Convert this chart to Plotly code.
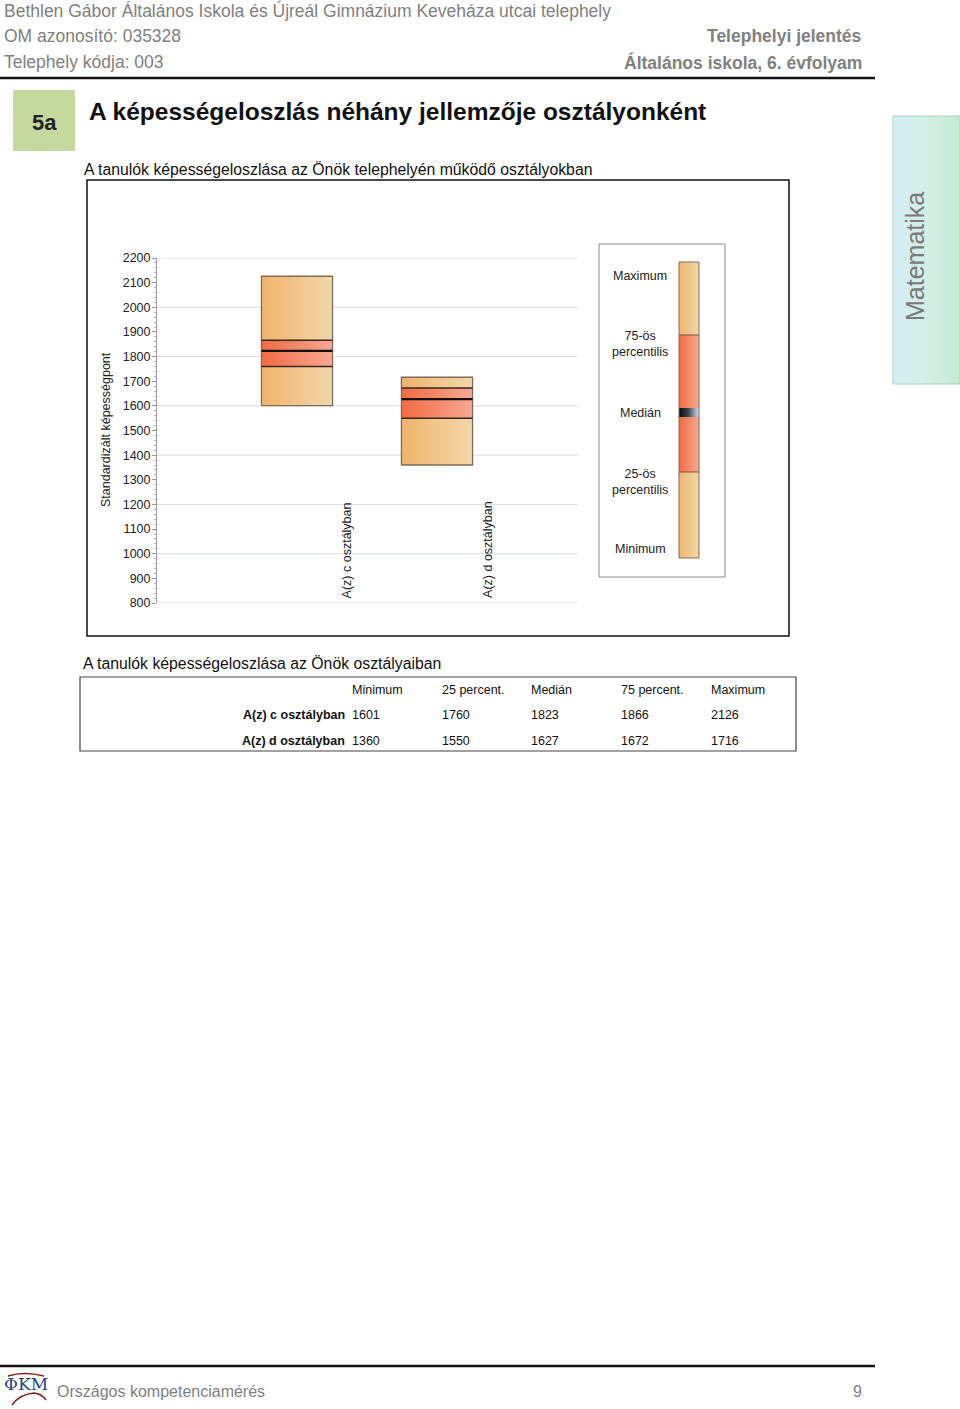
import plotly.graph_objects as go

# ---------------- data ----------------
classes = ["A(z) c osztályban", "A(z) d osztályban"]
minimum = [1601, 1360]
q25 = [1760, 1550]
median = [1823, 1627]
q75 = [1866, 1672]
maximum = [2126, 1716]
col_headers = ["Minimum", "25 percent.", "Medián", "75 percent.", "Maximum"]
legend_labels = ["Maximum", "75-ös<br>percentilis", "Medián", "25-ös<br>percentilis", "Minimum"]
grid_vals = [800, 1000, 1200, 1400, 1600, 1800, 2000, 2200]

W, H = 960, 1409
F = "Liberation Sans, Arial, sans-serif"

ORANGE = [[0, "#f0b46c"], [1, "#f2d7aa"]]
RED = [[0, "#f26b42"], [1, "#f6a993"]]
MED = [[0, "#0a0a0a"], [0.45, "#3c4450"], [1, "#d0e0ee"]]

fig = go.Figure()

# ---------------- boxes (data axes) ----------------
HW = 0.254
for i, name in enumerate(classes):
    xc = i + 1
    xl, xr = xc - HW, xc + HW
    segs = [(minimum[i], q25[i], ORANGE), (q25[i], q75[i], RED), (q75[i], maximum[i], ORANGE)]
    for lo, hi, cs in segs:
        fig.add_trace(go.Scatter(x=[xl, xr, xr, xl, xl], y=[lo, lo, hi, hi, lo], mode="lines",
                                 fill="toself", fillgradient=dict(type="horizontal", colorscale=cs),
                                 line=dict(width=0), hoverinfo="skip", showlegend=False,
                                 xaxis="x", yaxis="y"))
    fig.add_trace(go.Scatter(x=[xl, xr, xr, xl, xl], y=[minimum[i], minimum[i], maximum[i], maximum[i], minimum[i]],
                             mode="lines", line=dict(color="#7d6b5a", width=1.3), hoverinfo="skip",
                             showlegend=False, xaxis="x", yaxis="y"))
    fig.add_trace(go.Scatter(x=[xl, xr, None, xl, xr], y=[q25[i], q25[i], None, q75[i], q75[i]],
                             mode="lines", line=dict(color="#3a2420", width=1.5), hoverinfo="skip",
                             showlegend=False, xaxis="x", yaxis="y"))
    fig.add_trace(go.Scatter(x=[xl, xr], y=[median[i], median[i]], mode="lines",
                             line=dict(color="#111111", width=2.2), hoverinfo="skip",
                             showlegend=False, xaxis="x", yaxis="y"))

# ---------------- page decorations (pixel axes) ----------------
def grad_rect(x0, x1, y0, y1, cs):
    fig.add_trace(go.Scatter(x=[x0, x1, x1, x0, x0], y=[y0, y0, y1, y1, y0], mode="lines",
                             fill="toself", fillgradient=dict(type="horizontal", colorscale=cs),
                             line=dict(width=0), hoverinfo="skip", showlegend=False,
                             xaxis="x3", yaxis="y3"))

# side tab
grad_rect(893, 960, 116, 384, [[0, "#d3eef6"], [0.5, "#d2efe6"], [1, "#c6e8d2"]])

# legend bar
LX0, LX1 = 679, 699
LY = [262, 335, 408, 417, 472, 558]
leg_cs = [ORANGE, RED, MED, RED, ORANGE]
for k in range(5):
    grad_rect(LX0, LX1, LY[k], LY[k + 1], leg_cs[k])

annotations = []
shapes = []

# horizontal grid lines of the chart (below the boxes)
for g in grid_vals:
    shapes.append(dict(type="line", xref="x domain", yref="y", x0=0, x1=1, y0=g, y1=g,
                       layer="below", line=dict(color="#d6dce2", width=1)))

def txt(x, y, s, size, color="#222222", xanchor="left", angle=0, yanchor="middle", family=F):
    annotations.append(dict(x=x, y=y, xref="x3", yref="y3", text=s, showarrow=False,
                            xanchor=xanchor, yanchor=yanchor, textangle=angle,
                            borderpad=0, borderwidth=0,
                            font=dict(family=family, size=size, color=color)))

def rect(x0, y0, x1, y1, line_color=None, width=1, fill=None):
    shapes.append(dict(type="rect", xref="x3", yref="y3", x0=x0, y0=y0, x1=x1, y1=y1,
                       line=dict(color=line_color or "rgba(0,0,0,0)", width=width if line_color else 0),
                       fillcolor=fill or "rgba(0,0,0,0)"))

def hline(x0, x1, y, color, width):
    shapes.append(dict(type="line", xref="x3", yref="y3", x0=x0, x1=x1, y0=y, y1=y,
                       line=dict(color=color, width=width)))

# legend bar outline & separators
rect(LX0, LY[0], LX1, LY[-1], "#7d6b5a", 1)
hline(LX0, LX1, LY[1], "#8a5040", 1)
hline(LX0, LX1, LY[4], "#8a5040", 1)
rect(599, 244, 725, 577, "#8a8a8a", 1)
leg_y = [276, 344, 413, 482, 549]
for s, yy in zip(legend_labels, leg_y):
    txt(640, yy, s, 12.5, "#222222", xanchor="center")

# header
GRAY = "#808080"
txt(4, 10, "Bethlen Gábor Általános Iskola és Újreál Gimnázium Keveháza utcai telephely", 17.5, GRAY)
txt(4, 36, "OM azonosító: 035328", 17.5, GRAY)
txt(4, 62, "Telephely kódja: 003", 17.5, GRAY)
txt(862, 36, "<b>Telephelyi jelentés</b>", 17.5, GRAY, xanchor="right")
txt(862, 62, "<b>Általános iskola, 6. évfolyam</b>", 17.5, GRAY, xanchor="right")
hline(0, 875, 78, "#111111", 2.5)

# section title
rect(13, 90, 75, 151, fill="#c5d89d")
txt(44, 122, "<b>5a</b>", 22, "#222222", xanchor="center")
txt(89, 111, "<b>A képességeloszlás néhány jellemzője osztályonként</b>", 24.5, "#111111")
txt(84, 169, "A tanulók képességeloszlása az Önök telephelyén működő osztályokban", 15.8, "#111111")

# chart frame
rect(87, 180, 789, 636, "#111111", 1.5)
txt(106, 430, "Standardizált képességpont", 12.5, "#222222", xanchor="center", angle=-90)

# category labels (data coordinates)
for i, name in enumerate(classes):
    annotations.append(dict(x=i + 1 + 0.36, y=800, xref="x", yref="y", text=name, showarrow=False,
                            textangle=-90, xanchor="center", yanchor="bottom", yshift=5,
                            borderpad=0, borderwidth=0,
                            font=dict(family=F, size=12.5, color="#222222")))

# table
txt(83, 663, "A tanulók képességeloszlása az Önök osztályaiban", 15.8, "#111111")
rect(80, 677, 796, 751, "#444444", 1.2)
col_x = [352, 442, 531, 621, 711]
for cx, hdr in zip(col_x, col_headers):
    txt(cx, 690, hdr, 12.5, "#111111")
rows = list(zip(classes, minimum, q25, median, q75, maximum))
row_y = [715, 741]
for (name, *vals), ry in zip(rows, row_y):
    txt(345, ry, "<b>" + name + "</b>", 12.5, "#111111", xanchor="right")
    for cx, v in zip(col_x, vals):
        txt(cx, ry, str(v), 12.5, "#111111")

# side tab
rect(893, 116, 960, 384, "#a9d6b9", 1)
txt(915, 257, "Matematika", 25, "#7a7a7a", xanchor="center", angle=-90)

# footer
hline(0, 875, 1366, "#111111", 2.5)
txt(26, 1384, "ΦKM", 17, "#1d3f86", xanchor="center", family="DejaVu Serif, serif")
shapes.append(dict(type="path", xref="x3", yref="y3",
                   path="M 8,1376 Q 24,1371 44,1376 M 12,1405 Q 20,1394 34,1393 Q 42,1394 46,1400",
                   line=dict(color="#8b1a1a", width=1.5)))
txt(57, 1391, "Országos kompetenciamérés", 16, GRAY)
txt(862, 1391, "9", 16, GRAY, xanchor="right")

YR = [800, 2200]
fig.update_layout(
    width=W, height=H, margin=dict(l=0, r=0, t=0, b=0, pad=0, autoexpand=False),
    paper_bgcolor="white", plot_bgcolor="rgba(0,0,0,0)",
    showlegend=False,
    xaxis=dict(domain=[157 / W, 578 / W], range=[0, 421 / 140], visible=False, anchor="y",
               automargin=False),
    yaxis=dict(domain=[1 - 603 / H, 1 - 258 / H], range=YR, tick0=800, dtick=100, showgrid=False,
               ticks="outside", ticklen=4, tickcolor="#9a9a9a", showline=True, linecolor="#9a9a9a",
               tickfont=dict(family=F, size=12.5, color="#222222"), zeroline=False, anchor="x",
               ticklabelstandoff=-1, automargin=False,
               minor=dict(dtick=20, ticks="outside", ticklen=2.5, tickcolor="#b5b5b5", showgrid=False)),
    xaxis3=dict(domain=[0, 1], range=[0, W], visible=False, anchor="y3", automargin=False),
    yaxis3=dict(domain=[0, 1], range=[H, 0], visible=False, anchor="x3", automargin=False),
    annotations=annotations, shapes=shapes,
)

fig.write_html("out.html")
